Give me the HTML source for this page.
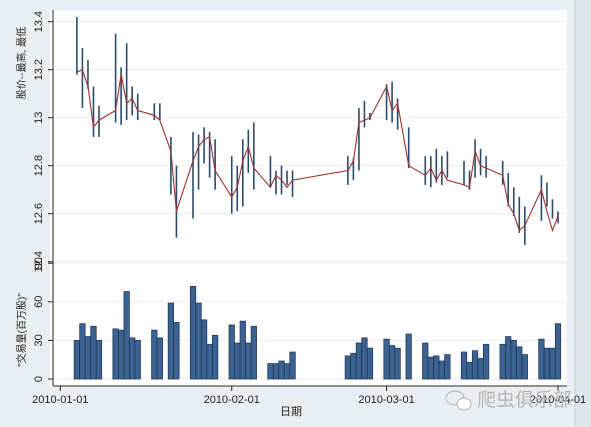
<!DOCTYPE html>
<html><head><meta charset="utf-8"><style>
html,body{margin:0;padding:0;background:#e8eef2;}
svg{display:block;font-family:"Liberation Sans","Noto Sans CJK SC",sans-serif;}
</style></head><body>
<svg id="chart" width="591" height="427" viewBox="0 0 591 427">
<rect x="0" y="0" width="591" height="427" fill="#e8eef2"/>
<rect x="575" y="0" width="16" height="427" fill="#dfe5ea"/>
<line x1="575" y1="0" x2="575" y2="427" stroke="#c8d0d6" stroke-width="1"/>
<rect x="50" y="10" width="517" height="377" fill="#ffffff"/>
<g id="grid"></g>
<g id="bars"></g>
<g id="hl"></g>
<g id="line"></g>
<g id="axes"></g>
<text transform="translate(25,63) rotate(-90)" text-anchor="middle" font-size="10" fill="#222">股价--最高, 最低</text>
<text transform="translate(25,330) rotate(-90)" text-anchor="middle" font-size="10" fill="#222">"交易量(百万股)"</text>
<text x="291" y="415" text-anchor="middle" font-size="11" fill="#222">日期</text>
<g>
<ellipse cx="455" cy="398" rx="9" ry="7" fill="none" stroke="#bbb" stroke-width="1.2"/>
<ellipse cx="464" cy="404" rx="7" ry="6" fill="#fff" stroke="#bbb" stroke-width="1.2"/>
<text x="477" y="406" font-size="19" fill="#b5b5b5">爬虫俱乐部</text>
</g>
</svg>
<script>
const tradeDays=[3,4,5,6,7,10,11,12,13,14,17,18,20,21,24,25,26,27,28,31,32,33,34,35,38,39,40,41,42,52,53,54,55,56,59,60,61,63,66,67,68,69,70,73,74,75,76,77,80,81,82,83,84,87,88,89,90];
const closeVals=[13.19,13.2,13.13,12.96,12.99,13.03,13.18,13.06,13.08,13.03,13.01,12.99,12.86,12.61,12.82,12.88,12.91,12.92,12.78,12.67,12.71,12.82,12.88,12.79,12.71,12.76,12.74,12.71,12.74,12.78,12.82,12.98,12.99,13.0,13.13,13.03,13.06,12.8,12.76,12.79,12.74,12.78,12.74,12.72,12.71,12.86,12.8,12.79,12.76,12.64,12.6,12.53,12.55,12.7,12.61,12.53,12.59];
const highVals=[13.42,13.29,13.24,13.13,13.05,13.35,13.21,13.31,13.13,13.1,13.06,13.06,12.92,12.8,12.94,12.93,12.96,12.94,12.91,12.84,12.8,12.91,12.95,12.98,12.84,12.78,12.8,12.78,12.78,12.84,12.83,13.04,13.07,13.02,13.14,13.15,13.08,12.96,12.84,12.84,12.87,12.84,12.86,12.82,12.78,12.91,12.87,12.84,12.82,12.77,12.71,12.67,12.63,12.76,12.73,12.66,12.61];
const lowVals=[13.18,13.04,13.12,12.92,12.92,12.98,12.97,12.99,13.01,12.99,12.99,12.99,12.68,12.5,12.58,12.7,12.81,12.75,12.7,12.6,12.61,12.63,12.77,12.7,12.71,12.68,12.68,12.72,12.67,12.72,12.74,12.78,12.96,12.99,12.99,12.98,12.95,12.79,12.72,12.71,12.73,12.72,12.75,12.72,12.7,12.75,12.76,12.75,12.72,12.63,12.59,12.52,12.47,12.57,12.63,12.58,12.56];
const volDays=[3,4,5,6,7,10,11,12,13,14,17,18,20,21,24,25,26,27,28,31,32,33,34,35,38,39,40,41,42,52,53,54,55,56,59,60,61,63,66,67,68,69,70,73,74,75,76,77,80,81,82,83,84,87,88,89,90];
const volVals=[30,43,33,41,30,39,38,68,32,30,38,32,59,44,72,59,46,27,34,42,28,45,28,41,12,12,14,12,21,18,20,28,32,24,31,26,24,35,28,17,18,14,19,21,13,22,16,27,27,33,30,25,19,31,24,24,43];
const priceTicks=[13.4,13.2,13,12.8,12.6,12.4];
const volTicks=[0,30,60,90];
const dateTicks=[0,31,59,90];
const dateLabels=["2010-01-01","2010-02-01","2010-03-01","2010-04-01"];

const NS="http://www.w3.org/2000/svg";
const xS=d=>60.3+5.53*d;
const yP=v=>21.7+(13.4-v)*240;
const yV=v=>379-v*(38.6/30);
function mk(tag,attrs,parent){const e=document.createElementNS(NS,tag);for(const k in attrs)e.setAttribute(k,attrs[k]);parent.appendChild(e);return e;}
const grid=document.getElementById('grid'),bars=document.getElementById('bars'),hl=document.getElementById('hl'),ln=document.getElementById('line'),axes=document.getElementById('axes');
priceTicks.forEach(t=>{const l=mk('line',{x1:53,x2:567,y1:yP(t),y2:yP(t),stroke:'#eceff2','stroke-width':1.2},grid);

});
volTicks.forEach(t=>{const l=mk('line',{x1:53,x2:567,y1:yV(t),y2:yV(t),stroke:'#eceff2','stroke-width':1.2},grid);

});
volDays.forEach((d,i)=>{const r=mk('rect',{x:xS(d)-2.75,y:yV(volVals[i]),width:5.5,height:yV(0)-yV(volVals[i]),fill:'#3b6290',stroke:'#1d3350','stroke-width':0.7},bars);

});
tradeDays.forEach((d,i)=>{const l=mk('line',{x1:xS(d),x2:xS(d),y1:yP(highVals[i]),y2:yP(lowVals[i]),stroke:'#2c4a6a','stroke-width':1.6},hl);

});
const pts=tradeDays.map((d,i)=>xS(d).toFixed(1)+','+yP(closeVals[i]).toFixed(1)).join(' ');
const pl=mk('polyline',{points:pts,fill:'none',stroke:'#a03030','stroke-width':1.1},ln);


mk('line',{x1:53,x2:53,y1:10,y2:386,stroke:'#222','stroke-width':1},axes);
mk('line',{x1:53,x2:567,y1:386,y2:386,stroke:'#222','stroke-width':1},axes);
priceTicks.forEach(t=>{mk('line',{x1:48,x2:53,y1:yP(t),y2:yP(t),stroke:'#222'},axes);
const tx=mk('text',{transform:`translate(42,${yP(t)}) rotate(-90)`,'text-anchor':'middle','font-size':11,fill:'#222'},axes);tx.textContent=String(t);

});
volTicks.forEach(t=>{mk('line',{x1:48,x2:53,y1:yV(t),y2:yV(t),stroke:'#222'},axes);
const tx=mk('text',{transform:`translate(42,${yV(t)}) rotate(-90)`,'text-anchor':'middle','font-size':11,fill:'#222'},axes);tx.textContent=String(t);

});
dateTicks.forEach((d,i)=>{mk('line',{x1:xS(d),x2:xS(d),y1:386,y2:391,stroke:'#222'},axes);
const tx=mk('text',{x:xS(d),y:403,'text-anchor':'middle','font-size':11,fill:'#222'},axes);tx.textContent=dateLabels[i];

});
</script>
</body></html>
